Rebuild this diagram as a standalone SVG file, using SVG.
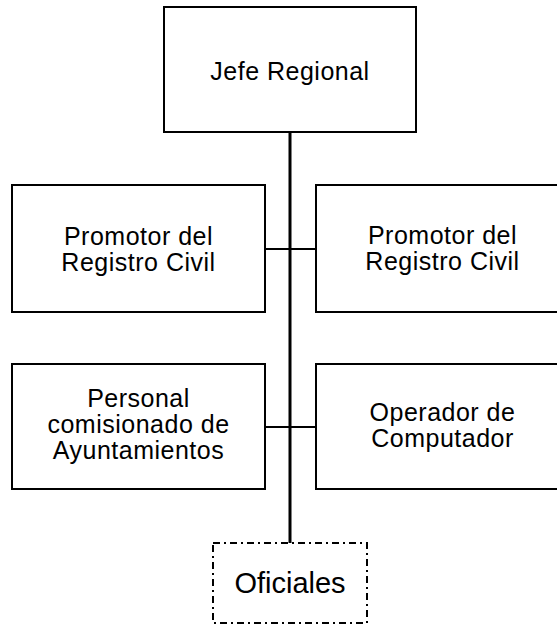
<svg xmlns="http://www.w3.org/2000/svg" width="557" height="626" viewBox="0 0 557 626">
<style>
.box{fill:#fff;stroke:#000;stroke-width:2}
.dash{fill:#fff;stroke:#000;stroke-width:2;stroke-dasharray:7 4 2 4}
.t{font-family:"Liberation Sans",Arial,sans-serif;font-size:25px;letter-spacing:0.5px;fill:#000;text-anchor:middle}
.big{font-size:29px;letter-spacing:0}
.ln{stroke:#000;fill:none}
</style>
<rect width="557" height="626" fill="#fff"/>
<g id="connectors">
<line class="ln" x1="290" y1="132" x2="290" y2="543" stroke-width="3"/>
<line class="ln" x1="265" y1="249" x2="316" y2="249" stroke-width="2"/>
<line class="ln" x1="265" y1="427" x2="316" y2="427" stroke-width="2"/>
</g>
<g id="jefe">
<rect class="box" x="164" y="7" width="252" height="125"/>
<text class="t" x="290" y="80">Jefe Regional</text>
</g>
<g id="promotor1">
<rect class="box" x="12" y="185" width="253" height="127"/>
<text class="t" x="138.5" y="245">Promotor del</text>
<text class="t" x="138.5" y="271">Registro Civil</text>
</g>
<g id="promotor2">
<rect class="box" x="316" y="185" width="253" height="127"/>
<text class="t" x="442.5" y="244">Promotor del</text>
<text class="t" x="442.5" y="270">Registro Civil</text>
</g>
<g id="personal">
<rect class="box" x="12" y="364" width="253" height="125"/>
<text class="t" x="138.5" y="407">Personal</text>
<text class="t" x="138.5" y="433">comisionado de</text>
<text class="t" x="138.5" y="459">Ayuntamientos</text>
</g>
<g id="operador">
<rect class="box" x="316" y="364" width="253" height="125"/>
<text class="t" x="442.5" y="421">Operador de</text>
<text class="t" x="442.5" y="447">Computador</text>
</g>
<g id="oficiales">
<rect class="dash" x="213" y="543" width="154" height="80"/>
<text class="t big" x="290" y="593">Oficiales</text>
</g>
</svg>
